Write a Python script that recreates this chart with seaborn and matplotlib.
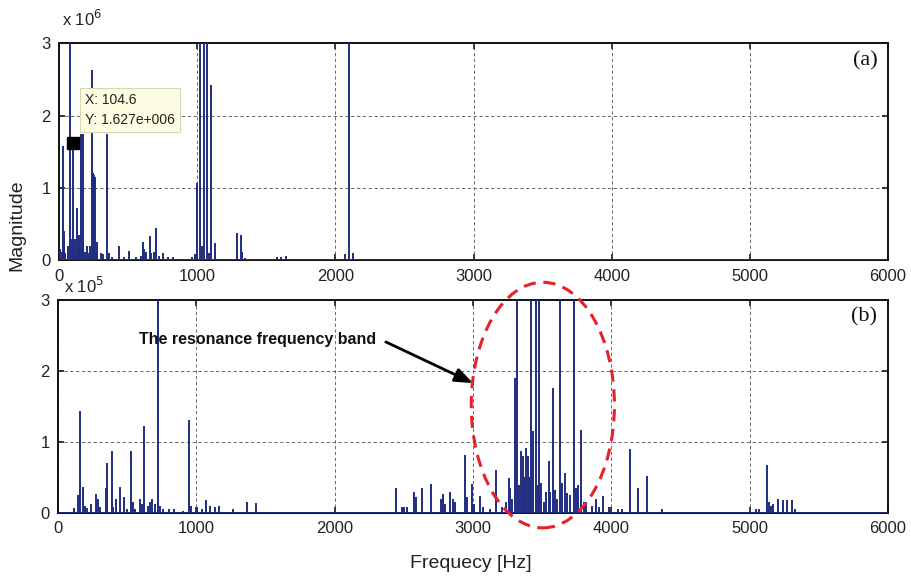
import matplotlib
matplotlib.use("Agg")
import matplotlib.pyplot as plt
from matplotlib.patches import Ellipse
import seaborn as sns
import pandas as pd

# ---------------- data ----------------
top_freq = [10, 18, 27, 33, 45, 62, 80, 92, 104.6, 118, 128, 135, 142, 150, 160, 170, 177,
            190, 205, 215, 226, 237, 248, 254, 259, 270, 278, 305, 318, 346, 360, 380, 437,
            470, 510, 560, 590, 607, 618, 630, 655, 668, 690, 702, 720, 756, 790, 828, 960,
            985, 1000, 1019, 1035, 1048, 1068, 1085, 1099, 1126, 1285, 1317, 1325, 1345,
            1580, 1605, 1640, 2071, 2100, 2127]
top_mag = [0.15, 0.12, 1.58, 0.41, 0.10, 0.20, 3.5, 0.30, 1.627, 0.30, 0.72, 0.20, 0.35, 0.15,
           1.75, 0.30, 1.75, 0.12, 0.20, 0.10, 0.20, 2.63, 1.20, 1.18, 1.15, 0.10, 0.25, 0.10,
           0.08, 1.75, 0.10, 0.05, 0.20, 0.04, 0.13, 0.04, 0.06, 0.25, 0.15, 0.12, 0.34, 0.10,
           0.12, 0.44, 0.06, 0.10, 0.04, 0.05, 0.04, 0.08, 1.07, 3.5, 0.19, 3.5, 3.5, 0.10,
           2.42, 0.24, 0.38, 0.35, 0.12, 0.03, 0.05, 0.05, 0.06, 0.09, 3.5, 0.10]  # x 1e6

bot_freq = [115, 144, 156, 183, 195, 207, 235, 272, 288, 300, 346, 356, 387, 400, 416, 447,
            476, 500, 524, 540, 560, 596, 610, 625, 650, 665, 680, 700, 721, 735, 760, 800,
            837, 900, 947, 960, 1005, 1040, 1072, 1100, 1135, 1163, 1262, 1365, 1432,
            2441, 2485, 2500, 2520, 2573, 2585, 2628, 2693, 2770, 2784, 2800, 2832, 2855,
            2870, 2942, 2955, 2990, 3005, 3048, 3070, 3120, 3163, 3210, 3240, 3257, 3270,
            3285, 3302, 3321, 3335, 3348, 3360, 3372, 3384, 3395, 3410, 3420, 3436, 3456,
            3470, 3480, 3490, 3510, 3530, 3547, 3560, 3575, 3590, 3610, 3631, 3645, 3667,
            3680, 3700, 3731, 3745, 3760, 3784, 3800, 3820, 3860, 3887, 3910, 3942, 3980,
            4050, 4080, 4136, 4194, 4257, 4366, 5044, 5068, 5123, 5140, 5155, 5170, 5208,
            5242, 5273, 5305, 5330]
bot_mag = [0.07, 0.26, 1.43, 0.37, 0.10, 0.07, 0.12, 0.27, 0.19, 0.08, 0.35, 0.70, 0.87, 0.08,
           0.19, 0.37, 0.23, 0.06, 0.87, 0.16, 0.05, 0.19, 0.12, 1.22, 0.10, 0.16, 0.19, 0.12,
           3.5, 0.10, 0.06, 0.05, 0.05, 0.03, 1.31, 0.10, 0.09, 0.06, 0.18, 0.10, 0.09, 0.10,
           0.06, 0.15, 0.14,
           0.35, 0.08, 0.08, 0.08, 0.29, 0.23, 0.35, 0.41, 0.20, 0.27, 0.12, 0.30, 0.19,
           0.15, 0.82, 0.23, 0.41, 0.12, 0.24, 0.08, 0.05, 0.61, 0.08, 0.15, 0.49, 0.35,
           0.20, 1.90, 3.5, 0.40, 0.87, 0.80, 0.50, 0.91, 0.80, 0.50, 3.5, 1.15, 3.5,
           0.40, 3.5, 0.42, 0.15, 0.30, 0.73, 0.30, 1.76, 0.33, 0.20, 3.5, 0.42, 0.56,
           0.28, 0.25, 3.5, 0.35, 0.40, 1.17, 0.15, 0.15, 0.10, 0.19, 0.08, 0.24, 0.08,
           0.05, 0.05, 0.90, 0.35, 0.52, 0.05, 0.06, 0.06, 0.67, 0.16, 0.10, 0.12, 0.20,
           0.18, 0.18, 0.18, 0.05]  # x 1e5

x_ticks = [0, 1000, 2000, 3000, 4000, 5000, 6000]
y_ticks = [0, 1, 2, 3]

top_df = pd.DataFrame({"freq": top_freq, "mag": top_mag})
bot_df = pd.DataFrame({"freq": bot_freq, "mag": bot_mag})

# ---------------- style ----------------
sns.set_theme(style="ticks")
plt.rcParams["font.family"] = ["Liberation Sans", "DejaVu Sans"]

STEM = "#1f2d80"

fig = plt.figure(figsize=(9.11, 5.77), dpi=100)
ax1 = fig.add_axes([0.0648, 0.549, 0.910, 0.376])
ax2 = fig.add_axes([0.0637, 0.111, 0.911, 0.369])

for ax, df in ((ax1, top_df), (ax2, bot_df)):
    ax.vlines(df["freq"], 0, df["mag"], color=STEM, lw=1.4, zorder=3)
    ax.axhline(0, color=STEM, lw=2.0, zorder=3)
    ax.set_xlim(0, 6000)
    ax.set_ylim(0, 3)
    ax.set_xticks(x_ticks)
    ax.set_yticks(y_ticks)
    ax.grid(True, linestyle=(0, (4, 3)), color="#555555", lw=0.6)
    for s in ax.spines.values():
        s.set_color("#111111")
        s.set_linewidth(1.4)
    ax.tick_params(direction="in", length=4, labelsize=12, colors="#222222",
                   top=True, right=True, pad=6)
    ax.set_xlabel("")
    ax.set_ylabel("")

# offset multipliers
fig.text(0.068, 0.955, r"x 10$^6$", fontsize=12, color="#222222")
fig.text(0.070, 0.493, r"x 10$^5$", fontsize=12, color="#222222")

# panel labels
ax1.text(0.987, 0.92, "(a)", transform=ax1.transAxes, ha="right", va="center",
         fontsize=16, family="Liberation Serif", color="#111111")
ax2.text(0.987, 0.92, "(b)", transform=ax2.transAxes, ha="right", va="center",
         fontsize=16, family="Liberation Serif", color="#111111")

# data tip
ax1.plot([104.6], [1.627], marker="s", color="black", ms=8, zorder=5)
ax1.text(190, 2.08, "X: 104.6\nY: 1.627e+006", fontsize=10, color="#222222",
         va="center", ha="left", linespacing=1.6, zorder=6,
         bbox=dict(boxstyle="square,pad=0.35", fc="#fdfde3", ec="#d8d8b0", lw=0.8))

# axis labels
fig.text(0.018, 0.61, "Magnitude", rotation=90, va="center", ha="center",
         fontsize=14, color="#222222")
fig.text(0.517, 0.024, "Frequecy [Hz]", va="center", ha="center",
         fontsize=14, color="#222222")

# resonance band annotation
ell = Ellipse((3505, 1.52), width=1035, height=3.46, fill=False, edgecolor="#e8202a",
              lw=2.2, linestyle=(0, (4, 2.5)), clip_on=False, zorder=6)
ax2.add_patch(ell)
ax2.text(1446, 2.44, "The resonance frequency band", fontsize=11.5, fontweight="bold",
         color="#111111", ha="center", va="center", zorder=7)
ax2.annotate("", xy=(3000, 1.83), xytext=(2370, 2.41),
             arrowprops=dict(arrowstyle="-|>,head_length=0.9,head_width=0.35",
                             color="black", lw=2.0, shrinkA=0, shrinkB=0), zorder=7)

fig.savefig("out.png", dpi=100)
